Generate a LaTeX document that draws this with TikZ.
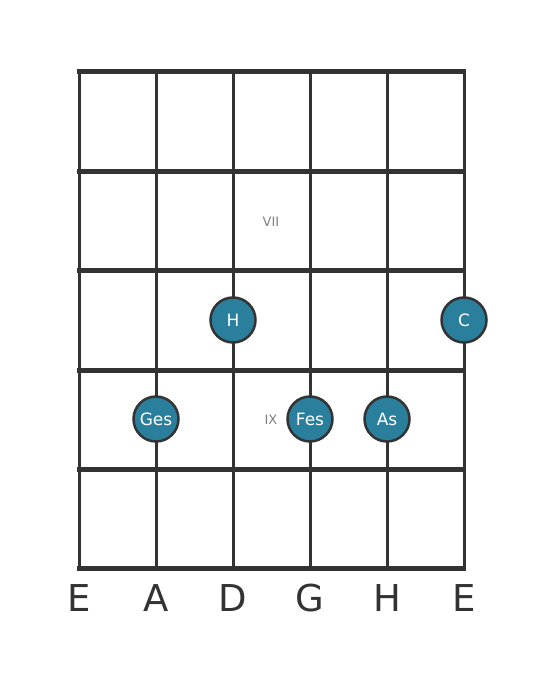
\documentclass[tikz,border=0pt]{standalone}
\usepackage{fontspec}
\setmainfont{DejaVu Sans}
\usetikzlibrary{positioning}

\definecolor{gridgray}{HTML}{333333}
\definecolor{noteteal}{HTML}{2A7F9C}
\definecolor{fretlabel}{HTML}{808080}

\tikzset{
    note/.style={circle, draw=gridgray, line width=2.5pt, fill=noteteal, text=white,
        minimum size=45pt, inner sep=0pt, font=\fontsize{17}{19}\selectfont},
    stringname/.style={text=gridgray, font=\fontsize{37}{40}\selectfont},
    fretname/.style={text=fretlabel, font=\fontsize{13}{15}\selectfont}
}

\begin{document}
\begin{tikzpicture}[x=1pt, y=-1pt]
        \useasboundingbox (0,0) rectangle (559,682);

        % strings
        \foreach \x in {78,155,232,309,386,463}
            \draw [gridgray, line width=3pt] (\x+1,72) -- (\x+1,568);

        % frets
        \foreach \y in {72,171,270,370,469,568}
            \draw [gridgray, line width=5pt] (77,\y) -- (466,\y);

        \node [fretname] (vii) at (271,222) {VII};
        \node [fretname] (ix) at (271,420) {IX};

        \node [note] (h) at (233,320) {H};
        \node [note] (c) at (464,320) {C};
        \node [note] (ges) at (156,419) {Ges};
        \node [note] (fes) at (310,419) {Fes};
        \node [note] (as) at (387,419) {As};

        \node [stringname] (s6) at (79,598) {E};
        \node [stringname] (s5) at (156,598) {A};
        \node [stringname] (s4) at (233,598) {D};
        \node [stringname] (s3) at (310,598) {G};
        \node [stringname] (s2) at (387,598) {H};
        \node [stringname] (s1) at (464,598) {E};
    \end{tikzpicture}
\end{document}
